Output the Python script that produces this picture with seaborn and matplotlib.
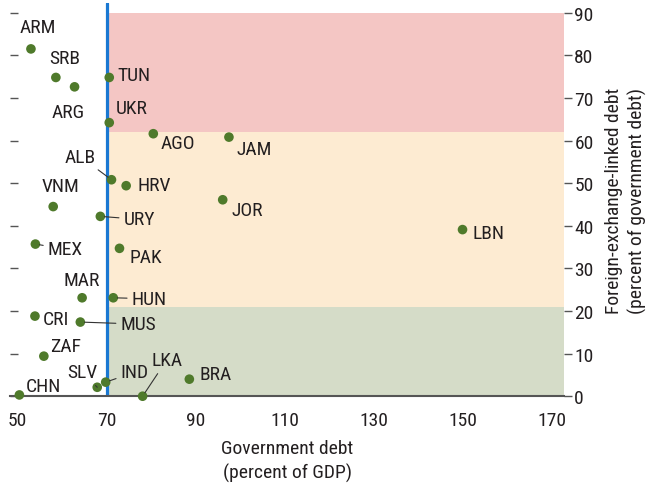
import numpy as np
import pandas as pd
import seaborn as sns
import matplotlib.pyplot as plt

# Data
countries = ['ARM', 'SRB', 'ARG', 'TUN', 'UKR', 'AGO', 'JAM', 'ALB', 'HRV', 'VNM',
             'JOR', 'URY', 'LBN', 'MEX', 'PAK', 'MAR', 'HUN', 'CRI', 'MUS', 'ZAF',
             'SLV', 'IND', 'LKA', 'BRA', 'CHN']
gov_debt = [53.0, 58.6, 62.8, 70.6, 70.6, 80.5, 97.5, 71.1, 74.4, 58.0,
            96.1, 68.6, 150.0, 54.0, 72.9, 64.5, 71.5, 53.9, 64.1, 55.9,
            67.9, 69.8, 78.1, 88.6, 50.4]
fx_debt = [81.5, 74.8, 72.6, 74.8, 64.2, 61.6, 60.8, 50.8, 49.4, 44.5,
           46.1, 42.2, 39.1, 35.7, 34.7, 23.1, 23.1, 18.8, 17.4, 9.4,
           2.1, 3.3, 0.0, 4.0, 0.3]

# risk zones (lower, upper) in percent of government debt
zone_bounds = [(62, 90), (21, 62), (0, 21)]
zone_colors = ['#F4C6C4', '#FDEBD2', '#D5DCC8']
debt_threshold = 70

x_ticks = [50, 70, 90, 110, 130, 150, 170]
y_ticks = [0, 10, 20, 30, 40, 50, 60, 70, 80, 90]

# label offsets in pixels (dx, dy) and whether a leader line is drawn
label_pos = {
    'ARM': (7, 22, False), 'SRB': (9, 19, False), 'ARG': (-6, -25, False),
    'TUN': (25, 2, False), 'UKR': (22, 15, False), 'AGO': (25, -9, False),
    'JAM': (25, -12, False), 'ALB': (-31, 23, True), 'HRV': (28, 1, False),
    'VNM': (7, 21, False), 'JOR': (25, -10, False), 'URY': (39, -3, True),
    'LBN': (26, -3, False), 'MEX': (30, -5, True), 'PAK': (26, -9, False),
    'MAR': (0, 18, False), 'HUN': (36, -1, True), 'CRI': (21, -3, False),
    'MUS': (58, -2, True), 'ZAF': (22, 10, False), 'SLV': (-15, 15, True),
    'IND': (29, 10, True), 'LKA': (24, 36, True), 'BRA': (26, 5, False),
    'CHN': (24, 9, False),
}

df = pd.DataFrame({'country': countries, 'gov_debt': gov_debt, 'fx_debt': fx_debt})

sns.set_style('white')
plt.rcParams['font.family'] = ['Roboto Condensed', 'Liberation Sans Narrow',
                               'Roboto', 'DejaVu Sans']
text_color = '#231F20'
fs = 14

fig = plt.figure(figsize=(6.55, 4.85), dpi=100)
ax = fig.add_axes([0.016, 0.181, 0.845, 0.811])

xmin, xmax = 48.4, 172.8
ax.set_xlim(xmin, xmax)
ax.set_ylim(0, 92.3)

# shaded zones to the right of the threshold
for (lo, hi), c in zip(zone_bounds, zone_colors):
    ax.fill_between([debt_threshold, xmax], lo, hi, color=c, lw=0, zorder=0)

ax.axvline(debt_threshold, color='#1A78D2', lw=2.3, zorder=1)

sns.scatterplot(data=df, x='gov_debt', y='fx_debt', ax=ax, color='#4F7A2B',
                s=48, edgecolor='none', zorder=3, clip_on=False, legend=False)

for name, xv, yv in zip(countries, gov_debt, fx_debt):
    dx, dy, leader = label_pos[name]
    kw = {}
    if leader:
        kw['arrowprops'] = dict(arrowstyle='-', lw=0.8, color='#333333',
                                shrinkA=1, shrinkB=3)
    ax.annotate(name, xy=(xv, yv), xytext=(dx, dy), textcoords='offset pixels',
                ha='center', va='center', fontsize=fs, color=text_color,
                zorder=4, **kw)

# axes styling
for s in ['top', 'left', 'right']:
    ax.spines[s].set_visible(False)
ax.spines['bottom'].set_color('#555555')
ax.spines['bottom'].set_linewidth(1.5)

ax.set_xticks(x_ticks)
ax.tick_params(axis='x', direction='in', length=5, width=1, color='#555555',
               labelsize=fs, labelcolor=text_color, pad=11)

ax.set_yticks(y_ticks)
ax.yaxis.tick_right()
ax.tick_params(axis='y', which='both', right=True, left=True, labelright=True,
               labelleft=False, direction='out', length=5.5, width=1,
               color='#555555', labelsize=fs, labelcolor=text_color, pad=2)
# left ticks point inward into the plot
for t in ax.yaxis.get_major_ticks():
    t.tick1line.set_marker(1)

ax.set_xlabel('Government debt\n(percent of GDP)', fontsize=fs, color=text_color,
              linespacing=1.35, labelpad=7)
ax.yaxis.set_label_position('right')
ax.set_ylabel('Foreign-exchange-linked debt\n(percent of government debt)',
              fontsize=fs, color=text_color, linespacing=1.35, labelpad=8)

plt.savefig('out.png', dpi=100)
